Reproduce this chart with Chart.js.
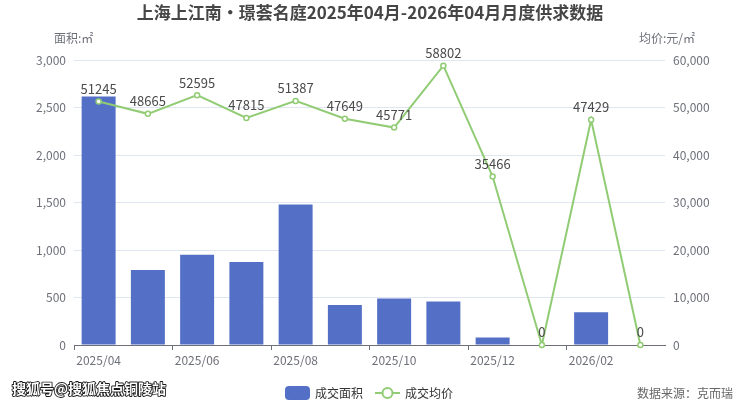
<!DOCTYPE html>
<html>
<head>
<meta charset="utf-8">
<script src="https://cdn.jsdelivr.net/npm/chart.js@4"></script>
<style>
  html, body { margin: 0; padding: 0; background: #fff; }
  #wrap { width: 740px; height: 406px; }
</style>
</head>
<body>
<div id="wrap"><canvas id="supplyChart" width="740" height="406"></canvas></div>
<script>
const months = ["2025/04", "2025/05", "2025/06", "2025/07", "2025/08", "2025/09", "2025/10", "2025/11", "2025/12", "2026/01", "2026/02", "2026/03"];
const areaValues = [2615, 790, 950, 875, 1480, 420, 490, 458, 80, 0, 344, 0];
const priceValues = [51245, 48665, 52595, 47815, 51387, 47649, 45771, 58802, 35466, 0, 47429, 0];
const areaTicks = [0, 500, 1000, 1500, 2000, 2500, 3000];
const priceTicks = [0, 10000, 20000, 30000, 40000, 50000, 60000];

const FONT = '"Noto Sans CJK SC", "Noto Sans", sans-serif';
const AXIS_GREY = "#6e7079";

// labels above the price points, plus title / axis names / legend / footer
const extras = {
  id: "extras",
  afterDatasetsDraw(chart) {
    const c = chart.ctx;
    const meta = chart.getDatasetMeta(1);
    c.save();
    c.font = "13px " + FONT;
    c.fillStyle = "#4a4a4a";
    c.textAlign = "center";
    c.textBaseline = "bottom";
    meta.data.forEach((pt, i) => {
      c.fillText(String(priceValues[i]), pt.x, pt.y - 6);
    });
    c.restore();
  },
  afterDraw(chart) {
    const c = chart.ctx;
    c.save();
    c.textBaseline = "middle";

    c.font = "bold 17px " + FONT;
    c.fillStyle = "#464646";
    c.textAlign = "center";
    c.fillText("上海上江南•璟荟名庭2025年04月-2026年04月月度供求数据", 370, 13);

    c.font = "12px " + FONT;
    c.fillStyle = AXIS_GREY;
    c.textAlign = "left";
    c.fillText("面积:㎡", 54, 38);
    c.textAlign = "right";
    c.fillText("均价:元/㎡", 695, 38);

    // legend
    c.fillStyle = "#5470c6";
    c.beginPath();
    c.roundRect(285, 386, 25, 14, 4);
    c.fill();
    c.strokeStyle = "#91cc75";
    c.lineWidth = 2;
    c.beginPath();
    c.moveTo(375, 393);
    c.lineTo(400, 393);
    c.stroke();
    c.beginPath();
    c.arc(387.5, 393, 5, 0, Math.PI * 2);
    c.fillStyle = "#fff";
    c.fill();
    c.stroke();
    c.font = "12px " + FONT;
    c.fillStyle = "#333";
    c.textAlign = "left";
    c.fillText("成交面积", 315, 393);
    c.fillText("成交均价", 405, 393);

    c.fillStyle = "#666";
    c.textAlign = "right";
    c.fillText("数据来源：克而瑞", 733, 393);

    // watermark: white text with a thin dark outline
    c.font = "bold 14px " + FONT;
    c.textAlign = "left";
    c.lineWidth = 1.8;
    c.strokeStyle = "#1a1a1a";
    c.lineJoin = "round";
    c.strokeText("搜狐号@搜狐焦点铜陵站", 12, 389);
    c.fillStyle = "#fff";
    c.fillText("搜狐号@搜狐焦点铜陵站", 12, 389);
    c.restore();
  }
};

const ctx = document.getElementById("supplyChart").getContext("2d");
const chart = new Chart(ctx, {
  type: "bar",
  data: {
    labels: months,
    datasets: [
      {
        type: "bar",
        label: "成交面积",
        data: areaValues,
        backgroundColor: "#5470c6",
        yAxisID: "y",
        barPercentage: 0.69,
        categoryPercentage: 1,
        order: 2
      },
      {
        type: "line",
        label: "成交均价",
        data: priceValues,
        borderColor: "#91cc75",
        borderWidth: 2,
        backgroundColor: "#fff",
        pointBackgroundColor: "#fff",
        pointBorderColor: "#91cc75",
        pointBorderWidth: 1.5,
        pointRadius: 2.5,
        tension: 0,
        yAxisID: "y1",
        clip: false,
        order: 1
      }
    ]
  },
  options: {
    responsive: false,
    animation: false,
    devicePixelRatio: 1,
    layout: { padding: { top: 60, left: 0, right: 0, bottom: 0 } },
    plugins: {
      legend: { display: false },
      title: { display: false },
      tooltip: { enabled: false }
    },
    scales: {
      x: {
        offset: true,
        grid: {
          offset: true,
          drawOnChartArea: false,
          drawTicks: true,
          tickLength: 5,
          tickColor: (g) => (g.index % 2 === 0 ? AXIS_GREY : "rgba(0,0,0,0)")
        },
        border: { color: AXIS_GREY, width: 1 },
        ticks: {
          autoSkip: false,
          maxRotation: 0,
          padding: 3,
          color: AXIS_GREY,
          font: { size: 12, family: FONT },
          callback: (v, i) => (i % 2 === 0 ? months[i] : "")
        },
        afterFit: (s) => { s.height = 61; }
      },
      y: {
        position: "left",
        min: 0,
        max: 3000,
        afterBuildTicks: (s) => { s.ticks = areaTicks.map(v => ({ value: v })); },
        grid: { color: "#E0E6F1", drawTicks: false },
        border: { display: false },
        ticks: {
          padding: 8,
          color: AXIS_GREY,
          font: { size: 12, family: FONT },
          callback: (v) => v.toLocaleString("en-US")
        },
        afterFit: (s) => { s.width = 74; }
      },
      y1: {
        position: "right",
        min: 0,
        max: 60000,
        afterBuildTicks: (s) => { s.ticks = priceTicks.map(v => ({ value: v })); },
        grid: { drawOnChartArea: false, drawTicks: false },
        border: { display: false },
        ticks: {
          padding: 8,
          color: AXIS_GREY,
          font: { size: 12, family: FONT },
          callback: (v) => v.toLocaleString("en-US")
        },
        afterFit: (s) => { s.width = 75; }
      }
    }
  },
  plugins: [extras]
});
</script>
</body>
</html>
